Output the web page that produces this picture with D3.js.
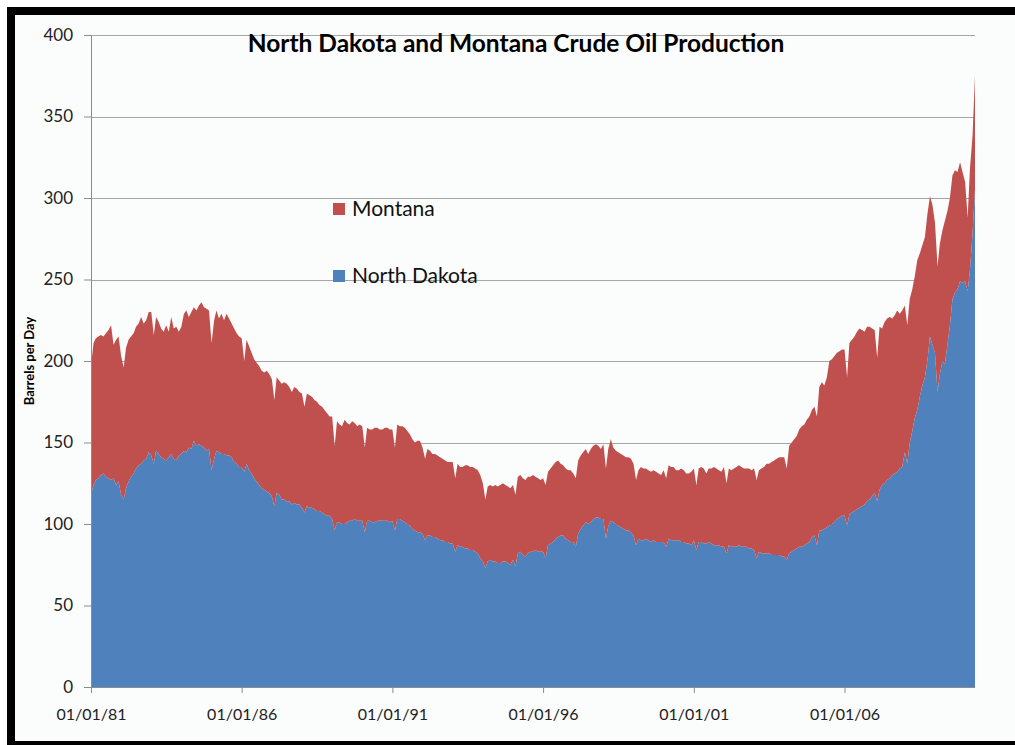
<!DOCTYPE html>
<html>
<head>
<meta charset="utf-8">
<script src="https://cdn.jsdelivr.net/npm/d3@7"></script>
<style>
  html, body { margin: 0; padding: 0; background: #ffffff; }
  svg { display: block; }
  text { font-family: Lato, "Open Sans", "Liberation Sans", sans-serif; }
</style>
</head>
<body>
<svg id="chart" width="1015" height="745"></svg>
<script>
// ---- Data (monthly, Jan 1981 – May 2010), barrels per day (thousands) ----
const startYear = 1981;
const seriesNames = ["North Dakota", "Montana"];
const seriesColors = ["#4f81bd", "#c0504d"];

const northDakota = [
  118,124,127,128,130,131,129,128,127,128,124,126, // 1981
  118,115,122,126,129,131,134,136,137,139,140,144, // 1982
  142,137,145,143,141,140,139,141,143,140,139,142, // 1983
  143,145,144,147,146,151,148,149,148,147,145,146, // 1984
  133,140,145,144,143,143,142,142,141,138,137,135, // 1985
  135,132,137,133,131,128,126,124,122,121,120,119, // 1986
  117,111,119,118,115,115,114,114,112,113,112,112, // 1987
  110,107,111,110,110,109,108,108,107,106,105,105, // 1988
  103, 96,101,101,100,100,101,102,102,103,102,102, // 1989
  102, 95,102,102,101,101,102,102,102,102,102,101, // 1990
  102, 96,103,103,102,101,100, 99, 97, 96, 95, 95, // 1991
   94, 90, 93, 93, 92, 92, 91, 90, 90, 89, 89, 88, // 1992
   88, 83, 87, 86, 86, 85, 85, 84, 84, 83, 82, 79, // 1993
   77, 73, 77, 78, 77, 77, 76, 76, 77, 77, 76, 75, // 1994
   78, 74, 82, 83, 81, 80, 82, 83, 83, 84, 83, 83, // 1995
   83, 79, 87, 88, 89, 91, 92, 93, 93, 91, 90, 89, // 1996
   89, 86, 94, 97, 99,101,100,101,103,104,104,103, // 1997
  103, 91, 99,102,101,100, 99, 98, 97, 96, 96, 95, // 1998
   93, 87, 91, 90, 90, 91, 90, 89, 90, 89, 89, 89, // 1999
   89, 86, 91, 90, 90, 90, 90, 89, 89, 88, 88, 87, // 2000
   90, 84, 89, 89, 88, 88, 89, 88, 87, 87, 87, 86, // 2001
   86, 82, 87, 86, 86, 86, 87, 86, 86, 86, 85, 85, // 2002
   84, 79, 83, 82, 82, 82, 82, 81, 81, 81, 81, 80, // 2003
   80, 78, 82, 83, 84, 85, 86, 86, 87, 88, 89, 92, // 2004
   93, 87, 96, 96, 97, 98, 99,100,101,103,104,105, // 2005
  105, 99,106,107,108,109,110,111,112,114,115,117, // 2006
  119,114,121,124,125,127,128,130,131,132,134,135, // 2007
  144,137,150,157,165,170,178,185,190,200,215,210, // 2008
  205,181,192,200,198,210,222,238,242,244,249,248, // 2009
  249,243,256,278,305                              // 2010
];

const montana = [
  79,87,87,87,86,84,88,91,95,82,89,89,   // 1981
  85,81,86,87,86,86,87,87,90,84,85,86,   // 1982
  88,79,82,81,79,78,83,77,84,80,82,76,   // 1983
  78,84,87,80,84,82,83,85,88,86,87,85,   // 1984
  78,85,86,82,86,82,87,84,82,82,80,80,   // 1985
  79,68,76,76,74,73,73,73,72,72,74,73,   // 1986
  72,65,71,70,71,72,72,70,69,71,71,69,   // 1987
  70,65,69,69,68,67,67,65,65,64,63,61,   // 1988
  63,52,62,60,60,64,61,59,61,59,58,59,   // 1989
  58,52,57,56,57,58,57,56,56,57,57,57,   // 1990
  56,51,58,57,58,58,57,56,55,54,56,56,   // 1991
  53,50,53,52,51,51,51,51,50,50,49,50,   // 1992
  50,45,50,49,49,51,51,51,51,51,51,51,   // 1993
  48,42,46,46,46,47,47,48,48,47,47,47,   // 1994
  46,44,47,47,47,47,47,46,47,45,45,44,   // 1995
  45,45,45,46,47,47,47,44,43,43,43,44,   // 1996
  42,42,45,45,45,45,43,45,45,45,44,43,   // 1997
  46,43,47,50,46,45,45,45,45,45,45,45,   // 1998
  44,40,42,45,44,43,43,43,43,43,42,41,   // 1999
  44,42,45,45,45,43,43,45,44,43,43,45,   // 2000
  44,40,45,46,46,43,45,46,48,47,46,46,   // 2001
  49,43,47,47,48,49,49,49,48,48,49,48,   // 2002
  50,48,50,52,53,55,55,57,58,59,60,61,   // 2003
  61,56,66,67,68,69,72,74,74,76,77,78,   // 2004
  79,79,88,91,88,92,101,101,102,102,102,102, // 2005
  102,91,105,106,107,109,110,108,106,107,106,103, // 2006
  100,88,100,96,99,99,99,96,97,99,95,96,   // 2007
  90,85,88,87,87,92,88,86,86,90,86,86,     // 2008
  80,77,80,80,88,82,78,76,75,72,73,68,     // 2009
  61,45,62,60,70                           // 2010
];

const yTicks = [0, 50, 100, 150, 200, 250, 300, 350, 400];
const xTickYears = [1981, 1986, 1991, 1996, 2001, 2006];
const titleText = "North Dakota and Montana Crude Oil Production";
const yAxisTitle = "Barrels per Day";

// ---- Build table ----
const table = northDakota.map((v, i) => ({
  date: new Date(startYear, i, 1),
  nd: v,
  mt: montana[i]
}));

const svg = d3.select("#chart");

// frame
svg.append("rect").attr("x", 0).attr("y", 0).attr("width", 1015).attr("height", 745).attr("fill", "#ffffff");
svg.append("rect").attr("x", 15).attr("y", 15).attr("width", 1000).attr("height", 726).attr("fill", "#fbfcfc");
svg.append("rect").attr("x", 7).attr("y", 7).attr("width", 1008).attr("height", 8).attr("fill", "#000");
svg.append("rect").attr("x", 7).attr("y", 7).attr("width", 8).attr("height", 738).attr("fill", "#000");
svg.append("rect").attr("x", 7).attr("y", 741).attr("width", 1008).attr("height", 4).attr("fill", "#000");

const plotLeft = 91, plotRight = 975, plotTop = 35, plotBottom = 687;

const x = d3.scaleTime()
  .domain([table[0].date, table[table.length - 1].date])
  .range([plotLeft, plotRight]);
const y = d3.scaleLinear().domain([0, 400]).range([plotBottom, plotTop]);

// gridlines
svg.append("g").selectAll("line").data(yTicks.filter(d => d > 0)).join("line")
  .attr("x1", plotLeft).attr("x2", plotRight)
  .attr("y1", d => Math.round(y(d)) + 0.5).attr("y2", d => Math.round(y(d)) + 0.5)
  .attr("stroke", "#a6a6a6").attr("stroke-width", 1.2);

// stacked areas
const stack = d3.stack().keys(["nd", "mt"]);
const stacked = stack(table);
const area = d3.area()
  .x(d => x(d.data.date))
  .y0(d => y(d[0]))
  .y1(d => y(d[1]));

svg.append("g").selectAll("path").data(stacked).join("path")
  .attr("d", area)
  .attr("fill", (d, i) => seriesColors[i]);

// y axis
const yAxis = d3.axisLeft(y).tickValues(yTicks).tickSize(7).tickPadding(11);
const gy = svg.append("g").attr("transform", `translate(${plotLeft},0)`).call(yAxis);
gy.select(".domain").attr("stroke", "#8c8c8c");
gy.selectAll(".tick line").attr("stroke", "#8c8c8c");
gy.selectAll(".tick text").attr("font-size", 17).attr("fill", "#222").attr("font-family", "Lato, sans-serif");

// x axis
const xAxis = d3.axisBottom(x)
  .tickValues(xTickYears.map(yr => new Date(yr, 0, 1)))
  .tickFormat(d3.timeFormat("%m/%d/%y"))
  .tickSize(6).tickPadding(16);
const gx = svg.append("g").attr("transform", `translate(0,${plotBottom})`).call(xAxis);
gx.select(".domain").attr("stroke", "#8c8c8c").attr("d", `M${plotLeft},0.5H${plotRight}`);
gx.selectAll(".tick line").attr("stroke", "#8c8c8c");
gx.selectAll(".tick text").attr("font-size", 16).attr("fill", "#222").attr("font-family", "Lato, sans-serif");

// title
svg.append("text")
  .attr("x", 516).attr("y", 52)
  .attr("text-anchor", "middle")
  .attr("font-size", 24.5).attr("font-weight", "bold").attr("fill", "#000")
  .text(titleText);

// y-axis title
svg.append("text")
  .attr("transform", "translate(34,361) rotate(-90)")
  .attr("text-anchor", "middle")
  .attr("font-size", 13).attr("font-weight", "bold").attr("fill", "#000")
  .text(yAxisTitle);

// legend (Montana on top)
const legendItems = [
  { name: seriesNames[1], color: seriesColors[1], yPos: 209 },
  { name: seriesNames[0], color: seriesColors[0], yPos: 276 }
];
const lg = svg.append("g");
lg.selectAll("rect").data(legendItems).join("rect")
  .attr("x", 333).attr("y", d => d.yPos - 6).attr("width", 12).attr("height", 12)
  .attr("fill", d => d.color);
lg.selectAll("text").data(legendItems).join("text")
  .attr("x", 352).attr("y", d => d.yPos + 7)
  .attr("font-size", 21).attr("fill", "#111")
  .text(d => d.name);
</script>
</body>
</html>
